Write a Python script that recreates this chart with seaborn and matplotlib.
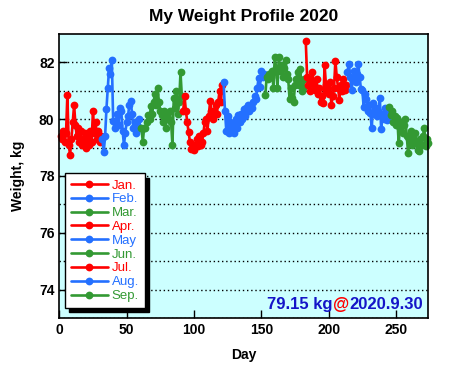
import matplotlib
matplotlib.use("Agg")
import matplotlib.pyplot as plt
from matplotlib.offsetbox import TextArea, HPacker, AnchoredOffsetbox
import numpy as np
import pandas as pd
import seaborn as sns

# daily weights (kg), one list per month
jan = [79.4, 79.3, 79.6, 79.2, 79.5, 80.85, 79.1, 78.75, 79.3, 79.9, 80.5, 79.8, 79.4, 79.7, 79.2, 79.6,
       79.1, 79.3, 79.5, 79.0, 79.4, 79.1, 79.6, 79.2, 80.3, 79.5, 79.9, 79.3, 79.6, 79.2, 79.4]
feb = [79.3, 78.85, 79.4, 80.35, 81.1, 81.8, 81.6, 82.08, 79.95, 79.7, 79.9, 80.2, 79.8, 80.4, 80.3,
       79.6, 79.1, 79.5, 79.9, 80.1, 80.5, 80.65, 80.2, 79.7, 79.9, 79.5, 79.8, 80.0, 79.7]
mar = [79.7, 79.2, 79.7, 79.7, 79.9, 80.15, 80.0, 80.45, 80.2, 80.6, 80.9, 80.5, 81.1, 80.6, 80.3, 80.15,
       79.9, 80.3, 79.7, 80.2, 80.0, 80.3, 79.9, 79.1, 80.75, 80.4, 81.0, 80.2, 80.6, 81.65, 80.8]
apr = [80.3, 80.8, 80.3, 79.9, 79.55, 79.2, 78.95, 79.05, 78.9, 79.1, 79.3, 79.05, 79.4, 79.1, 79.2,
       79.5, 79.9, 80.0, 79.6, 80.1, 80.65, 80.3, 80.0, 80.3, 80.5, 80.2, 80.6, 81.0, 80.6, 81.2]
may = [81.3, 80.3, 79.6, 80.1, 79.5, 79.9, 79.6, 79.8, 79.5, 80.0, 79.7, 80.15, 79.9, 80.2, 80.0, 80.35,
       80.1, 80.4, 80.5, 80.3, 80.5, 80.4, 80.6, 80.8, 80.7, 81.1, 81.45, 81.15, 81.7, 81.5, 81.6]
jun = [80.85, 81.5, 81.4, 81.6, 81.5, 81.7, 81.1, 82.2, 81.8, 81.1, 82.2, 81.7, 81.9, 81.5, 81.8,
       82.1, 81.6, 81.4, 80.7, 81.1, 80.75, 80.6, 81.2, 81.4, 81.65, 81.2, 81.75, 81.0, 81.1, 81.4]
jul = [82.75, 81.5, 81.2, 81.0, 81.3, 81.67, 81.2, 81.03, 81.4, 80.9, 81.1, 80.6, 80.8, 80.56, 81.9,
       81.2, 81.0, 80.9, 81.3, 80.5, 80.8, 81.1, 82.06, 81.5, 81.1, 80.68, 81.2, 81.0, 81.4, 81.03, 81.2]
aug = [81.67, 81.96, 81.5, 81.03, 81.38, 81.7, 81.3, 81.6, 81.94, 81.5, 81.05, 81.03, 80.44, 80.9, 80.7,
       80.3, 80.5, 80.21, 79.68, 80.56, 80.2, 80.4, 80.1, 80.3, 80.74, 79.65, 80.2, 80.0, 80.4, 79.98, 80.3]
sep = [80.44, 80.15, 80.3, 79.9, 80.1, 79.8, 80.03, 79.16, 79.7, 79.9, 79.5, 79.8, 80.0, 79.4, 78.81,
       79.3, 79.6, 79.1, 79.33, 79.5, 79.2, 78.9, 78.87, 79.3, 79.1, 79.4, 79.7, 79.04, 79.3, 79.15]

months = ["Jan.", "Feb.", "Mar.", "Apr.", "May", "Jun.", "Jul.", "Aug.", "Sep."]
series = [jan, feb, mar, apr, may, jun, jul, aug, sep]
red, blue, green = "#ff0000", "#2470ff", "#339933"
colors = [red, blue, green] * 3

rows = []
day = 0
for m, vals in zip(months, series):
    for v in vals:
        day += 1
        rows.append((day, v, m))
df = pd.DataFrame(rows, columns=["day", "weight", "month"])

sns.set_style("ticks")
plt.rcParams["font.family"] = ["Liberation Sans", "DejaVu Sans"]
plt.rcParams["text.color"] = "black"
plt.rcParams["axes.labelcolor"] = "black"

fig = plt.figure(figsize=(4.54, 3.69), dpi=100)
ax = fig.add_axes([0.1306, 0.1382, 0.8128, 0.7697])
ax.set_facecolor("#ccffff")

sns.lineplot(data=df, x="day", y="weight", hue="month", palette=dict(zip(months, colors)),
             hue_order=months, marker="o", markersize=5.6, markeredgewidth=0, linewidth=1.9,
             errorbar=None, legend=False, ax=ax)
for ln in ax.lines:
    ln.set_clip_on(False)

ax.set_xlim(0, 274)
ax.set_ylim(73, 83)
ax.set_xticks([0, 50, 100, 150, 200, 250])
ax.set_yticks([74, 76, 78, 80, 82])
ax.set_yticks(np.arange(73, 83, 1), minor=True)
ax.grid(axis="y", which="both", color="black", linestyle=(0, (1, 2)), linewidth=1)
ax.tick_params(direction="in", length=6, width=1, labelsize=10, colors="black")
ax.tick_params(which="minor", length=0)
for lab in ax.get_xticklabels() + ax.get_yticklabels():
    lab.set_fontweight("bold")
for sp in ax.spines.values():
    sp.set_visible(True)
    sp.set_linewidth(1.2)
    sp.set_color("black")

ax.set_xlabel("Day", fontsize=10, fontweight="bold", labelpad=8)
ax.set_ylabel("Weight, kg", fontsize=10, fontweight="bold", labelpad=10)
ax.set_title("My Weight Profile 2020", fontsize=12.5, fontweight="bold", pad=9, color="black")

leg = ax.legend(ax.lines, months, loc="lower left", bbox_to_anchor=(0.015, 0.035),
                frameon=True, fancybox=False, framealpha=1, edgecolor="black",
                shadow={"ox": 3, "oy": -3, "color": "black", "alpha": 1},
                labelcolor="linecolor", fontsize=9.5, handlelength=2.8, handletextpad=0.3,
                labelspacing=0.12, borderpad=0.45, borderaxespad=0)
leg.get_frame().set_linewidth(1)

blue_txt = "#1414c8"
parts = [TextArea("79.15 kg", textprops=dict(color=blue_txt, fontsize=12, fontweight="bold")),
         TextArea("@", textprops=dict(color=red, fontsize=12, fontweight="bold")),
         TextArea("2020.9.30", textprops=dict(color=blue_txt, fontsize=12, fontweight="bold"))]
box = HPacker(children=parts, align="baseline", pad=0, sep=0)
anc = AnchoredOffsetbox(loc="lower right", child=box, frameon=False, pad=0.2, borderpad=0.2)
ax.add_artist(anc)

fig.savefig("out.png", dpi=100)
